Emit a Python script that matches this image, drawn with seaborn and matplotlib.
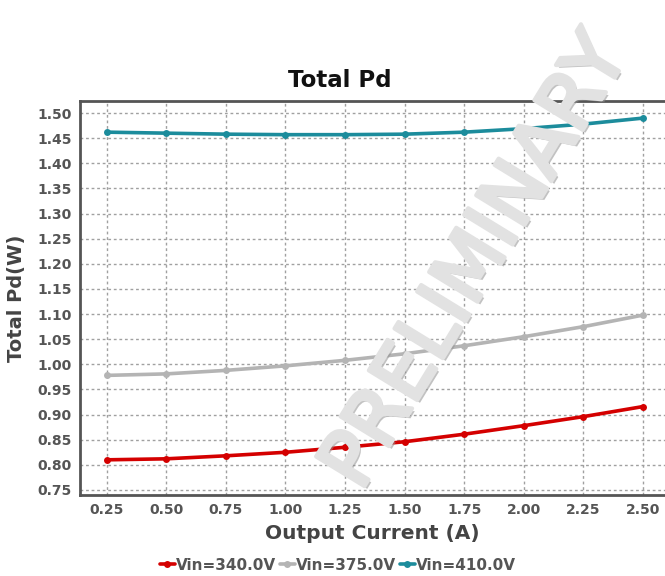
import matplotlib
matplotlib.use("Agg")
import matplotlib.pyplot as plt
import matplotlib.patheffects as pe
import seaborn as sns
import pandas as pd

current = [0.25, 0.50, 0.75, 1.00, 1.25, 1.50, 1.75, 2.00, 2.25, 2.50]
pd_340 = [0.810, 0.812, 0.818, 0.825, 0.835, 0.846, 0.861, 0.878, 0.896, 0.916]
pd_375 = [0.978, 0.981, 0.988, 0.997, 1.008, 1.021, 1.037, 1.055, 1.075, 1.098]
pd_410 = [1.462, 1.460, 1.458, 1.457, 1.457, 1.458, 1.462, 1.469, 1.478, 1.490]
series_names = ["Vin=340.0V", "Vin=375.0V", "Vin=410.0V"]
colors = ["#d40000", "#b4b4b4", "#1c8c9c"]
y_ticks = [0.75, 0.80, 0.85, 0.90, 0.95, 1.00, 1.05, 1.10, 1.15, 1.20, 1.25,
           1.30, 1.35, 1.40, 1.45, 1.50]

df = pd.DataFrame({
    "x": current * 3,
    "y": pd_340 + pd_375 + pd_410,
    "series": [series_names[0]] * 10 + [series_names[1]] * 10 + [series_names[2]] * 10,
})

sns.set_theme(style="white")
plt.rcParams['font.family'] = ['DejaVu Sans']

fig = plt.figure(figsize=(6.65, 5.76), dpi=100)
ax = fig.add_axes([80/665, 81/576, 1 - 80/665, (495-101)/576])

sns.lineplot(data=df, x="x", y="y", hue="series", palette=colors,
             marker="o", markersize=5, markeredgewidth=0, linewidth=2.6,
             ax=ax, legend=True)

ax.set_xlim(0.138, 2.592)
ax.set_ylim(0.74, 1.524)
ax.set_xticks(current)
ax.set_xticklabels([f"{v:.2f}" for v in current])
ax.set_yticks(y_ticks)
ax.set_yticklabels([f"{v:.2f}" for v in y_ticks])
ax.tick_params(length=0, labelsize=10, labelcolor="#555555", pad=6)
for lbl in ax.get_xticklabels() + ax.get_yticklabels():
    lbl.set_fontweight("bold")

ax.grid(True, color="#a0a0a0", linestyle=(0, (2, 2)), linewidth=1)
for s in ["left", "bottom", "top"]:
    ax.spines[s].set_color("#555555")
    ax.spines[s].set_linewidth(2)
ax.spines["right"].set_visible(False)

ax.set_xlabel("Output Current (A)", fontsize=14.5, fontweight="bold", color="#444444", labelpad=5)
ax.set_ylabel("Total Pd(W)", fontsize=14, fontweight="bold", color="#444444", labelpad=8)
ax.set_title("Total Pd", fontsize=16.5, fontweight="bold", color="#111111", pad=10,
             x=(340 - 80) / 585)

ax.legend_.remove()
handles, labels = ax.get_legend_handles_labels()
leg = fig.legend(handles, labels, loc="center", bbox_to_anchor=(338/665, 1 - 565/576),
                 ncol=3, frameon=False, handlelength=1.0, handletextpad=0.1,
                 columnspacing=0.2, prop={"weight": "bold", "size": 11})
for t in leg.get_texts():
    t.set_color("#555555")

fig.text(476/665, 1 - 262/576, "PRELIMINARY", rotation=58.5, fontsize=56,
         color="#e2e2e2", ha="center", va="center", fontweight="normal",
         path_effects=[pe.withSimplePatchShadow(offset=(2, -2), shadow_rgbFace="#909090", alpha=0.55),
                       pe.Stroke(linewidth=3, foreground="#e2e2e2"), pe.Normal()],
         zorder=10)

fig.savefig("out.png", dpi=100)
